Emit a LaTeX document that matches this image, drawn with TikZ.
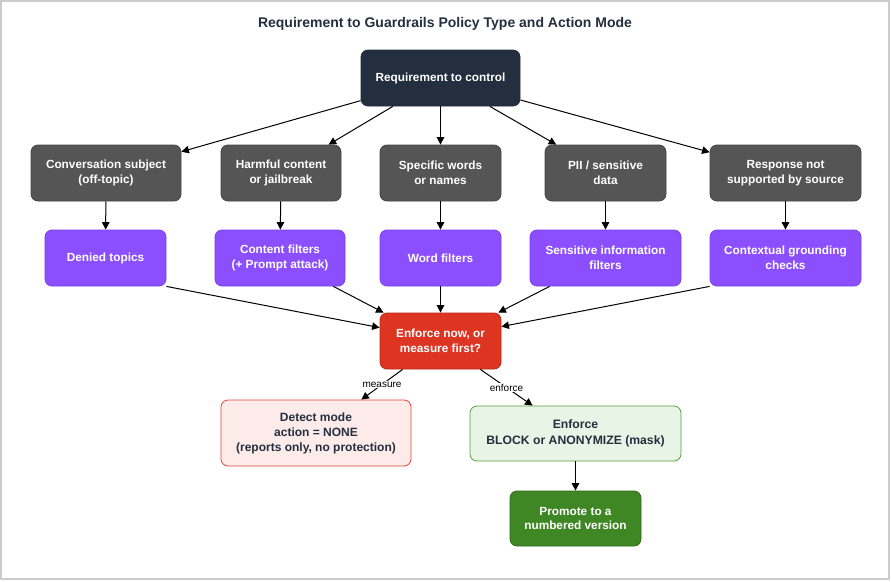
\documentclass[tikz,border=0pt]{standalone}
\usepackage{fontspec}
\setmainfont{Liberation Sans}
\usetikzlibrary{arrows.meta}
\definecolor{navy}{HTML}{232F3E}
\definecolor{graybox}{HTML}{555555}
\definecolor{grayedge}{HTML}{444444}
\definecolor{purplebox}{HTML}{8C4FFF}
\definecolor{purpleedge}{HTML}{7A3FE8}
\definecolor{redbox}{HTML}{DD3522}
\definecolor{rededge}{HTML}{B8281A}
\definecolor{detectfill}{HTML}{FDEBEA}
\definecolor{detectedge}{HTML}{E0453A}
\definecolor{enffill}{HTML}{E8F5E6}
\definecolor{enfedge}{HTML}{5A9E3A}
\definecolor{promfill}{HTML}{3F8624}
\definecolor{promedge}{HTML}{2F6A1A}
\definecolor{framegray}{HTML}{CCCCCC}
\tikzset{
  box/.style={rounded corners=7pt, align=center, inner sep=0pt, font=\fontsize{11.8}{14.5}\selectfont\bfseries, line width=0.8pt},
  navybox/.style={box, fill=navy, draw=navy, text=white},
  graynode/.style={box, fill=graybox, draw=grayedge, text=white},
  purplenode/.style={box, fill=purplebox, draw=purpleedge, text=white},
  rednode/.style={box, fill=redbox, draw=rededge, text=white},
  detectnode/.style={box, fill=detectfill, draw=detectedge, text=navy, font=\fontsize{12}{15}\selectfont\bfseries},
  enfnode/.style={box, fill=enffill, draw=enfedge, text=navy, font=\fontsize{12.2}{15.5}\selectfont\bfseries},
  promnode/.style={box, fill=promfill, draw=promedge, text=white},
  conn/.style={-{Triangle[length=7.5pt,width=7.5pt]}, line width=1pt, black},
  lbl/.style={fill=white, inner sep=1pt, font=\fontsize{10}{12}\selectfont, text=black},
}
\begin{document}
\begin{tikzpicture}[x=1pt,y=-1pt]
\useasboundingbox (0,0) rectangle (891,581);
\draw[framegray, line width=2pt] (1,1) rectangle (889,579);
\node[font=\fontsize{14}{16}\selectfont\bfseries, text=navy] (title) at (445,24) {Requirement to Guardrails Policy Type and Action Mode};
\node[navybox, minimum width=159pt, minimum height=56pt] (top) at (440.5,78) {Requirement to control};
% gray row
\node[graynode, minimum width=150pt, minimum height=56pt] (g1) at (106,173) {Conversation subject\\(off-topic)};
\node[graynode, minimum width=120pt, minimum height=56pt] (g2) at (281,173) {Harmful content\\or jailbreak};
\node[graynode, minimum width=121pt, minimum height=56pt] (g3) at (440.5,173) {Specific words\\or names};
\node[graynode, minimum width=121pt, minimum height=56pt] (g4) at (605.5,173) {PII / sensitive\\data};
\node[graynode, minimum width=151pt, minimum height=56pt] (g5) at (785.5,173) {Response not\\supported by source};
% purple row
\node[purplenode, minimum width=121pt, minimum height=56pt] (p1) at (105.5,258) {Denied topics};
\node[purplenode, minimum width=130pt, minimum height=56pt] (p2) at (280,258) {Content filters\\(+ Prompt attack)};
\node[purplenode, minimum width=121pt, minimum height=56pt] (p3) at (440.5,258) {Word filters};
\node[purplenode, minimum width=151pt, minimum height=56pt] (p4) at (605.5,258) {Sensitive information\\filters};
\node[purplenode, minimum width=151pt, minimum height=56pt] (p5) at (785.5,258) {Contextual grounding\\checks};
% decision
\node[rednode, minimum width=121pt, minimum height=56pt] (dec) at (440.5,341) {Enforce now, or\\measure first?};
\node[detectnode, minimum width=190pt, minimum height=66pt] (det) at (316,433) {Detect mode\\action = NONE\\(reports only, no protection)};
\node[enfnode, minimum width=211pt, minimum height=55pt] (enf) at (575.5,433.5) {Enforce\\BLOCK or ANONYMIZE (mask)};
\node[promnode, minimum width=131pt, minimum height=55pt] (prom) at (575.5,518.5) {Promote to a\\numbered version};
% connectors
\foreach \g in {g1,g2,g3,g4,g5} \draw[conn] (top) -- (\g);
\draw[conn] (g1) -- (p1);
\draw[conn] (g2) -- (p2);
\draw[conn] (g3) -- (p3);
\draw[conn] (g4) -- (p4);
\draw[conn] (g5) -- (p5);
\draw[conn] (p1.south east) -- ([yshift=-15pt]dec.north west);
\draw[conn] ([xshift=-12pt]p2.south east) -- ([xshift=4pt]dec.north west);
\draw[conn] (p3) -- (dec);
\draw[conn] ([xshift=20pt]p4.south west) -- ([xshift=-3pt]dec.north east);
\draw[conn] (p5.south west) -- ([yshift=-14pt]dec.north east);
\draw[conn] ([xshift=23pt]dec.south west) -- node[lbl, pos=0.5] (lm) {measure} ([xshift=-50pt]det.north east);
\draw[conn] ([xshift=-21pt]dec.south east) -- node[lbl, pos=0.5] (le) {enforce} ([xshift=63pt]enf.north west);
\draw[conn] (enf) -- (prom);
\end{tikzpicture}
\end{document}
